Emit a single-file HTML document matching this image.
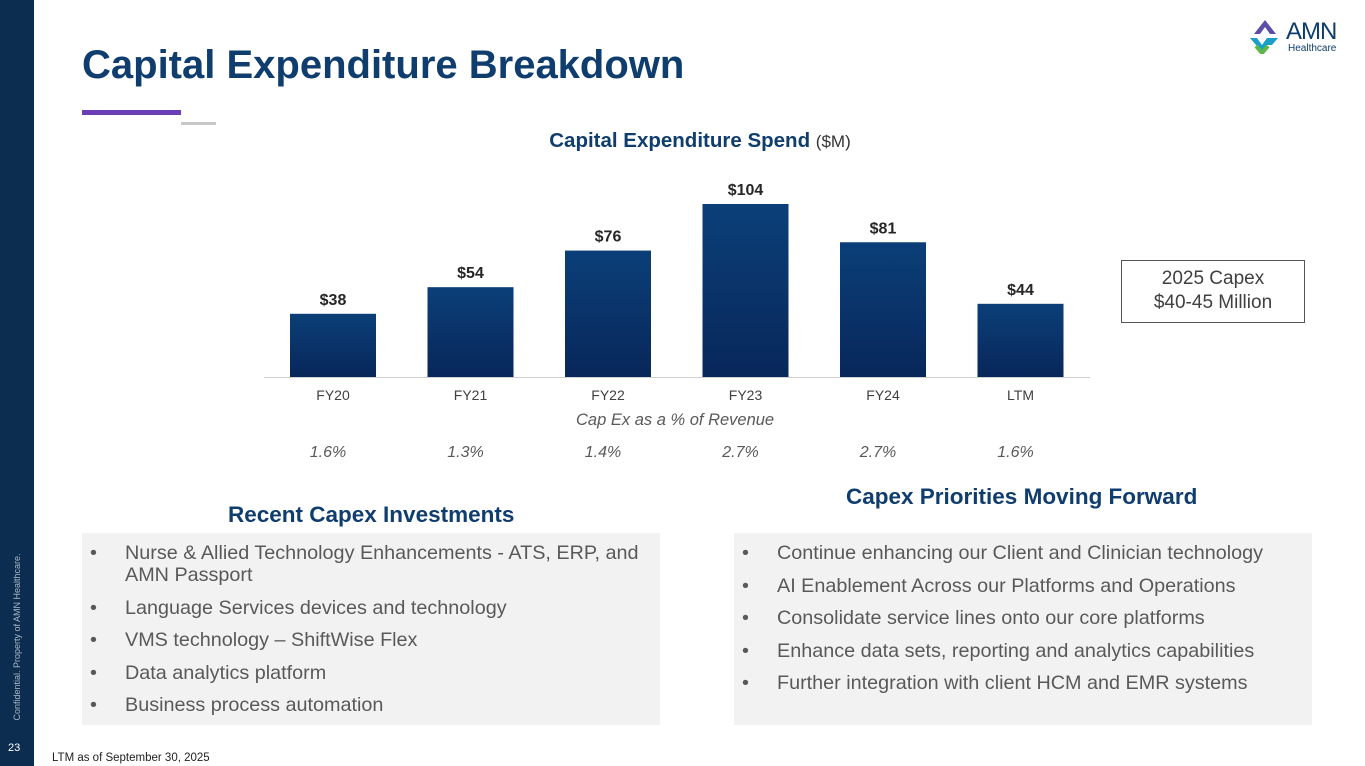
<!DOCTYPE html>
<html><head><meta charset="utf-8"><style>
body{margin:0;width:1365px;height:766px;position:relative;background:#fff;font-family:"Liberation Sans",sans-serif;overflow:hidden}
.abs{position:absolute}
.box{background:#f2f2f2;position:absolute}
.box ul{margin:0;padding:0;list-style:none}
.box li{position:relative;padding-left:43px;padding-right:10px;font-size:19.8px;color:#595959;line-height:22px;margin-bottom:10.5px}
.box li:before{content:"•";position:absolute;left:8px}
</style></head><body>
<div class="abs" style="left:0;top:0;width:34px;height:766px;background:#0c2c50"></div>
<div class="abs" style="left:17px;top:637px;transform:translate(-50%,-50%) rotate(-90deg);white-space:nowrap;font-size:9px;color:#aab8c8">Confidential. Property of AMN Healthcare.</div>
<div class="abs" style="left:8px;top:742px;font-size:11px;color:#fff">23</div>
<div class="abs" style="left:52px;top:752px;font-size:11.5px;color:#222">LTM as of September 30, 2025</div>
<div class="abs" style="left:82px;top:43px;font-size:40px;font-weight:bold;color:#0f3d6e">Capital Expenditure Breakdown</div>
<div class="abs" style="left:82px;top:110px;width:99px;height:5px;background:#6a3fb5"></div>
<div class="abs" style="left:181px;top:122px;width:35px;height:3px;background:#c8c8c8"></div>
<div class="abs" style="left:1248px;top:18px;width:112px;height:36px">
<svg width="36" height="36" viewBox="0 0 36 36"><path d="M6 16 L17 2 L28 16 L22 16 L17 9 L12 16Z" fill="#5b4da8"/><path d="M2 20 L9 20 L14 27 L19 20 L30 20 L24 27 L19 27 L14 34 L8 27Z" fill="#1aa0c8"/><path d="M8 28 L14 35 L20 28" fill="none" stroke="#5fb846" stroke-width="4"/></svg>
<div class="abs" style="left:38px;top:0;font-size:24px;color:#0f3d6e;letter-spacing:-1px">AMN</div>
<div class="abs" style="left:40px;top:25px;font-size:10px;color:#0f3d6e">Healthcare</div>
</div>
<div class="abs" style="left:0;width:1400px;text-align:center;top:129px;font-size:20.5px;font-weight:bold;color:#0f3d6e">Capital Expenditure Spend <span style="font-weight:normal;font-size:17px;color:#333">($M)</span></div>
<svg class="abs" style="left:0;top:0" width="1365" height="470">
<defs><linearGradient id="g" x1="0" y1="0" x2="0" y2="1"><stop offset="0" stop-color="#0b3f78"/><stop offset="1" stop-color="#08275a"/></linearGradient></defs>
<g id="bars"></g>
<line x1="264" x2="1090" y1="377.5" y2="377.5" stroke="#d0d0d0"/>
</svg>
<div class="abs" style="left:576px;top:411px;font-size:16.5px;font-style:italic;color:#595959">Cap Ex as a % of Revenue</div>
<div class="abs" style="left:1121px;top:260px;width:184px;height:63px;border:1px solid #555;text-align:center;font-size:19px;color:#404040;line-height:24px;padding-top:6px;box-sizing:border-box">2025 Capex<br>$40-45 Million</div>
<div class="abs" style="left:228px;top:502px;font-size:22.5px;font-weight:bold;color:#0f3d6e">Recent Capex Investments</div>
<div class="abs" style="left:846px;top:484px;font-size:22.5px;font-weight:bold;color:#0f3d6e">Capex Priorities Moving Forward</div>
<div class="box" style="left:82px;top:533px;width:578px;height:192px"><ul style="padding-top:9px">
<li>Nurse &amp; Allied Technology Enhancements - ATS, ERP, and AMN Passport</li><li>Language Services devices and technology</li><li>VMS technology – ShiftWise Flex</li><li>Data analytics platform</li><li>Business process automation</li></ul></div>
<div class="box" style="left:734px;top:533px;width:578px;height:192px"><ul style="padding-top:9px">
<li>Continue enhancing our Client and Clinician technology</li><li>AI Enablement Across our Platforms and Operations</li><li>Consolidate service lines onto our core platforms</li><li>Enhance data sets, reporting and analytics capabilities</li><li>Further integration with client HCM and EMR systems</li></ul></div>
<script>
const categories=["FY20","FY21","FY22","FY23","FY24","LTM"];
const capexValues=[38,54,76,104,81,44];
const pctLabels=["1.6%","1.3%","1.4%","2.7%","2.7%","1.6%"];
const NS="http://www.w3.org/2000/svg";
const g=document.getElementById("bars");
const x=i=>333+i*137.5, y=v=>377-v*173/104;
function t(txt,cx,cy,st){const e=document.createElementNS(NS,"text");e.setAttribute("x",cx);e.setAttribute("y",cy);e.setAttribute("text-anchor","middle");e.setAttribute("style",st);e.textContent=txt;g.appendChild(e);return e;}
categories.forEach((c,i)=>{
const r=document.createElementNS(NS,"rect");
r.setAttribute("x",x(i)-43);r.setAttribute("width",86);r.setAttribute("y",y(capexValues[i]));r.setAttribute("height",377-y(capexValues[i]));r.setAttribute("fill","url(#g)");


g.appendChild(r);
const v=t("$"+capexValues[i],x(i),y(capexValues[i])-9,"font:bold 16px 'Liberation Sans',sans-serif;fill:#262626");


const l=t(c,x(i),400,"font:14px 'Liberation Sans',sans-serif;fill:#404040");


const p=t(pctLabels[i],x(i)-5,457,"font:italic 16px 'Liberation Sans',sans-serif;fill:#595959");


});
</script>
</body></html>
